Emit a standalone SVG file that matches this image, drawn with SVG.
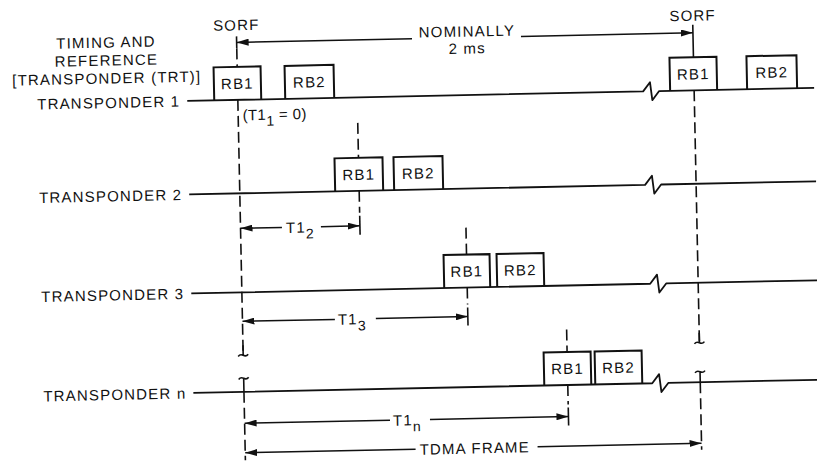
<svg xmlns="http://www.w3.org/2000/svg" width="817" height="463" viewBox="0 0 817 463">
<defs>
<marker id="ah" viewBox="0 0 12 7" refX="12" refY="3.5" markerWidth="12" markerHeight="7" markerUnits="userSpaceOnUse" orient="auto-start-reverse"><path d="M0,0 L12,3.5 L0,7 z" fill="#111"/></marker>
</defs>
<style>
text{font-family:"Liberation Sans",Arial,sans-serif;font-size:15px;letter-spacing:1.2px;fill:#111}
.ln{fill:none;stroke:#111;stroke-width:1.8;stroke-linejoin:round}
.bx{fill:none;stroke:#111;stroke-width:2}
.ds{fill:none;stroke:#111;stroke-width:1.6;stroke-dasharray:11 5}
.so{fill:none;stroke:#111;stroke-width:1.6}
.dim{fill:none;stroke:#111;stroke-width:1.5}
.arr{marker-end:url(#ah)}
.arl{marker-start:url(#ah)}
.mid{text-anchor:middle}
.end{text-anchor:end}
.sub{font-size:14px}
</style>
<rect width="817" height="463" fill="#fff"/>
<g transform="rotate(-1.2 400 230)">
<g id="header">
<text class="mid" x="110" y="41.5">TIMING AND</text>
<text class="mid" x="110" y="59.5">REFERENCE</text>
<text class="mid" x="110" y="77.5">[TRANSPONDER (TRT)]</text>
<text class="mid" x="240.6" y="27">SORF</text>
<text class="mid" x="697" y="27">SORF</text>
<text class="mid" x="471" y="38">NOMINALLY</text>
<text class="mid" x="471" y="55">2 ms</text>
</g>
<g id="transponder1">
<text class="end" x="183" y="102">TRANSPONDER 1</text>
<path class="ln" d="M190,96.5 H646 L653,87.5 L655,105.5 L662,96.5 H817"/>
<text x="245" y="117" style="letter-spacing:0.4px">(T1<tspan class="sub" dy="6">1</tspan><tspan dy="-6"> = 0)</tspan></text>
</g>
<g id="t1-rb1"><path class="bx" d="M217,96.5 V63.5 H264 V96.5"/><text class="mid" x="240.5" y="85.5">RB1</text></g>
<g id="t1-rb2"><path class="bx" d="M288,96.5 V63.5 H337 V96.5"/><text class="mid" x="312.5" y="85.5">RB2</text></g>
<g id="t1-rb1b"><path class="bx" d="M673,96.5 V63.5 H720 V96.5"/><text class="mid" x="696.5" y="85.5">RB1</text></g>
<g id="t1-rb2b"><path class="bx" d="M750,96.5 V63.5 H800 V96.5"/><text class="mid" x="775" y="85.5">RB2</text></g>

<g id="transponder2">
<text class="end" x="183" y="195.5">TRANSPONDER 2</text>
<path class="ln" d="M190,190 H646 L653,181 L655,199 L662,190 H817"/>
</g>
<g id="t2-rb1"><path class="bx" d="M336,190 V157 H384 V190"/><text class="mid" x="360" y="179">RB1</text></g>
<g id="t2-rb2"><path class="bx" d="M395,190 V157 H444 V190"/><text class="mid" x="419.5" y="179">RB2</text></g>

<g id="transponder3">
<text class="end" x="183" y="294.5">TRANSPONDER 3</text>
<path class="ln" d="M190,289 H649 L656,280 L658,298 L665,289 H817"/>
</g>
<g id="t3-rb1"><path class="bx" d="M443,289 V256 H489 V289"/><text class="mid" x="466" y="278">RB1</text></g>
<g id="t3-rb2"><path class="bx" d="M496,289 V256 H543 V289"/><text class="mid" x="519.5" y="278">RB2</text></g>

<g id="transpondern">
<text class="end" x="183" y="394">TRANSPONDER n</text>
<path class="ln" d="M190,388.5 H649 L656,379.5 L658,397.5 L665,388.5 H817"/>
</g>
<g id="tn-rb1"><path class="bx" d="M541,388.5 V355.5 H588 V388.5"/><text class="mid" x="564.5" y="377.5">RB1</text></g>
<g id="tn-rb2"><path class="bx" d="M592,388.5 V355.5 H639 V388.5"/><text class="mid" x="615.5" y="377.5">RB2</text></g>

<g id="connectors">
<path class="dim arl" d="M240.6,39 H416"/>
<path class="dim arr" d="M525,39 H697"/>
<path class="so" d="M240.6,33 V45 M697,31 V63.5"/>
<path class="ds" d="M240.6,45 V63.5 M240.6,96.5 V352 M240.6,388.5 V457"/>
<path class="so" d="M240.6,342 V352 M235.6,353 c1.5,-2 3,-2 5,-1 s3.5,1 5,-1 M235.6,376 c1.5,-2 3,-2 5,-1 s3.5,1 5,-1 M240.6,375.5 V388.5"/>
<path class="ds" d="M697,96.5 V349 M697,388.5 V456"/>
<path class="so" d="M697,339 V349 M692,350 c1.5,-2 3,-2 5,-1 s3.5,1 5,-1 M692,379 c1.5,-2 3,-2 5,-1 s3.5,1 5,-1 M697,378.5 V388.5"/>

<path class="ds" d="M360,122 V157 M360,190 V212"/>
<path class="so" d="M360,215 V234"/>
<path class="dim arl" d="M240.6,225 H282"/>
<path class="dim arr" d="M321,225 H360"/>
<text x="286" y="230.5">T1<tspan class="sub" dy="6">2</tspan></text>

<path class="ds" d="M466,229 V256 M466,289 V306"/>
<path class="so" d="M466,309 V327"/>
<path class="dim arl" d="M240.6,318 H333"/>
<path class="dim arr" d="M374,318 H466"/>
<text x="336" y="323.5">T1<tspan class="sub" dy="6">3</tspan></text>

<path class="ds" d="M564.5,333 V355.5 M564.5,388.5 V408"/>
<path class="so" d="M564.5,411 V429"/>
<path class="dim arl" d="M240.6,420 H386"/>
<path class="dim arr" d="M426,420 H564.5"/>
<text x="389" y="425.5">T1<tspan class="sub" dy="6">n</tspan></text>

<path class="dim arl" d="M240.6,449.5 H411"/>
<path class="dim arr" d="M533,449.5 H697"/>
<text x="415" y="455">TDMA FRAME</text>
</g>
</g>
</svg>
